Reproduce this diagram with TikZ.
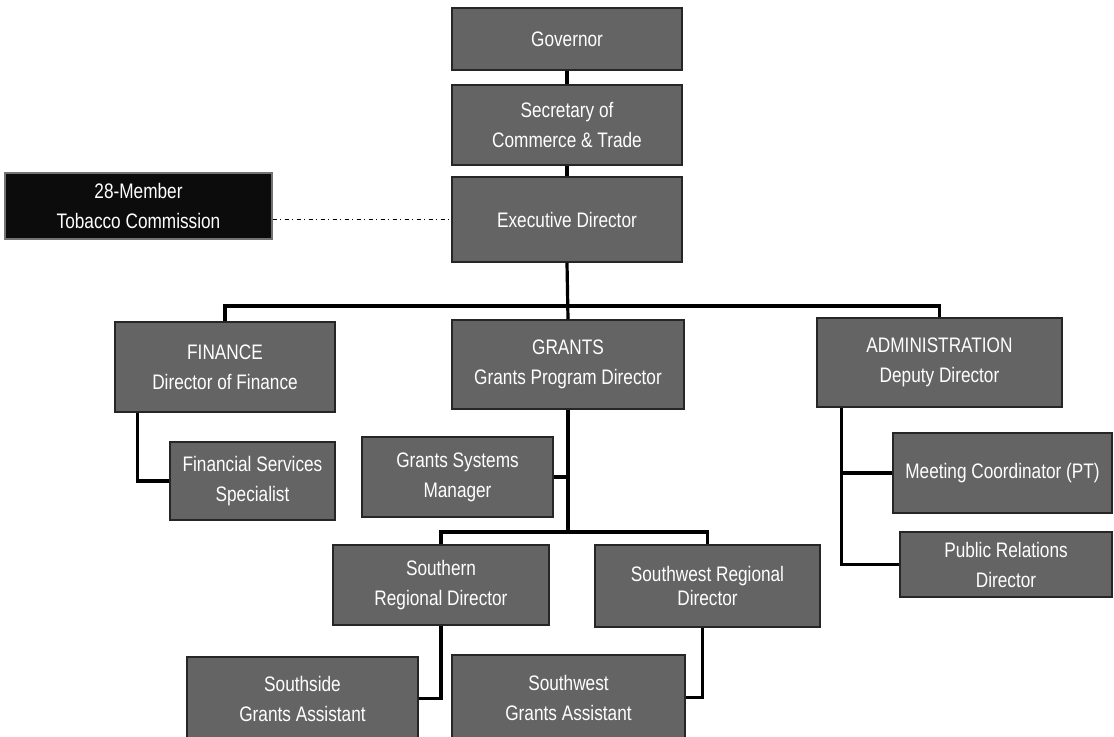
\documentclass[tikz,border=0pt]{standalone}
\usepackage{fontspec}
\setmainfont{Liberation Sans}[FakeStretch=0.82]
\usetikzlibrary{calc}
\definecolor{boxgray}{RGB}{100,100,100}
\definecolor{tobblack}{RGB}{12,12,12}
\tikzset{
  orgbox/.style={draw=black!85, line width=1.1pt, fill=boxgray, text=white,
    align=center, inner sep=0pt, font=\fontsize{15.75}{22.5}\selectfont},
  sz/.style 2 args={minimum width=#1*0.75pt, minimum height=#2*0.75pt},
  link/.style={draw=black, line width=2.4pt},
  commlink/.style={draw=black, line width=1.4pt, dash pattern=on 3pt off 2.5pt on 1pt off 2.5pt}
}
\begin{document}
\begin{tikzpicture}[x=0.75pt, y={(0,-0.75pt)}]
\useasboundingbox (0,0) rectangle (1114,736);
\clip (0,0) rectangle (1114,736);
\fill[white] (0,0) rectangle (1114,736);

\node[orgbox, sz={230}{62}] (gov) at (567,39) {Governor};
\node[orgbox, sz={230}{80}] (sec) at (567,125) {Secretary of\\Commerce \& Trade};
\node[orgbox, sz={230}{85}] (exe) at (567,219.5) {Executive Director};
\node[orgbox, fill=tobblack, draw=black!55, sz={267}{66}] (tob) at (138.5,206) {28-Member\\Tobacco Commission};

\node[orgbox, sz={220}{90}] (fin) at (225,367) {FINANCE\\Director of Finance};
\node[orgbox, sz={232}{89}] (grants) at (568,364.5) {GRANTS\\Grants Program Director};
\node[orgbox, sz={245}{89}] (admin) at (939.5,362.5) {ADMINISTRATION\\Deputy Director};

\node[orgbox, sz={165}{78}] (fss) at (252.5,481) {Financial Services\\Specialist};
\node[orgbox, sz={191}{80}] (gsm) at (457.5,477) {Grants Systems\\Manager};
\node[orgbox, sz={219}{80}] (meet) at (1002.5,473) {Meeting Coordinator (PT)};
\node[orgbox, sz={212}{65}] (pr) at (1006,564.5) {Public Relations\\Director};

\node[orgbox, sz={216}{80}] (south) at (441,585) {Southern\\Regional Director};
\node[orgbox, sz={225}{82}, font=\fontsize{15.75}{17.5}\selectfont] (swr) at (707.5,586) {Southwest Regional\\Director};

\node[orgbox, sz={231}{83}] (ssga) at (302.5,698.5) {Southside\\Grants Assistant};
\node[orgbox, sz={233}{85}] (swga) at (568.5,697.5) {Southwest\\Grants Assistant};

% connectors
\coordinate (bus1) at (568,306);
\coordinate (bus2) at (568,532);
\draw[link] (gov.south) -- (sec.north);
\draw[link] (sec.south) -- (exe.north);
\draw[commlink] (tob.east |- exe.west) -- (exe.west);
\draw[link] (exe.south) -- (grants.north);
\draw[link] (fin.north) |- (bus1) -| (admin.north);
\draw[link] ($(fin.south west)+(23,0)$) |- (fss.west);
\draw[link] (grants.south) -- (bus2);
\draw[link] (gsm.east) -- (gsm.east -| grants.south);
\draw[link] (south.north) |- (bus2) -| (swr.north);
\draw[link] (south.south) |- (ssga.east);
\draw[link] ($(swr.south)+(-5,0)$) |- (swga.east);
\coordinate (admv) at ($(admin.south west)+(25,0)$);
\draw[link] (admv) |- (pr.west);
\draw[link] (meet.west -| admv) -- (meet.west);
\end{tikzpicture}
\end{document}
